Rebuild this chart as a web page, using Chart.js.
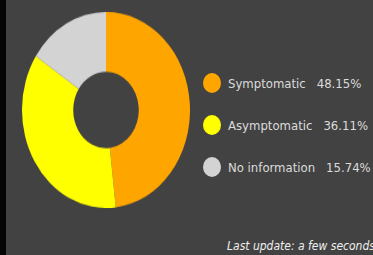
<!DOCTYPE html>
<html>
<head>
<meta charset="utf-8">
<script src="https://cdn.jsdelivr.net/npm/chart.js@4.4.0/dist/chart.umd.min.js"></script>
<style>
  html, body { margin: 0; padding: 0; }
  body {
    width: 373px; height: 255px; overflow: hidden;
    background: #424242; position: relative;
    font-family: "DejaVu Sans Condensed", "DejaVu Sans", sans-serif;
  }
  .strip { position: absolute; left: 0; top: 0; width: 6px; height: 255px; background: #050505; }
  .donut { position: absolute; left: 22px; top: 26px; width: 168px; height: 168px; transform: scaleY(1.167); }
  .legend { position: absolute; left: 203px; top: 62px; }
  .item { display: flex; align-items: center; height: 42px; }
  .dot { width: 18px; height: 20px; border-radius: 50%; margin-right: 7px; flex: none; }
  .txt { color: #dcdcdc; font-size: 13px; white-space: nowrap; }
  .num { margin-left: 11px; }
  .update { position: absolute; left: 227px; top: 239px; color: #f0f0f0; font-size: 12px; font-style: italic; white-space: nowrap; }
</style>
</head>
<body>
<div class="strip"></div>
<div class="donut"><canvas id="donutChart" width="168" height="168"></canvas></div>
<div class="legend" id="legend"></div>
<div class="update">Last update: a few seconds ago</div>
<script>
const labels = ['Symptomatic', 'Asymptomatic', 'No information'];
const counts = [52, 39, 17]; // 48.15%, 36.11%, 15.74%
const colors = ['#ffa500', '#ffff00', '#d3d3d3'];

const total = counts.reduce((a, b) => a + b, 0);

// legend on the right, drawn as html
let legend = document.getElementById('legend');
labels.forEach((name, i) => {
    const pct = (counts[i] / total * 100).toFixed(2);
    legend.innerHTML += '<div class="item">' +
        '<span class="dot" style="background:' + colors[i] + '"></span>' +
        '<span class="txt">' + name + '<span class="num">' + pct + '%</span></span></div>';
});

new Chart(document.getElementById('donutChart'), {
    type: 'doughnut',
    data: {
        labels: labels,
        datasets: [{
            data: counts,
            backgroundColor: colors,
            borderWidth: 0
        }]
    },
    options: {
        responsive: false,
        animation: false,
        cutout: '39%',
        layout: { padding: 0 },
        plugins: {
            legend: { display: false },
            tooltip: { enabled: false }
        }
    }
});
</script>
</body>
</html>
